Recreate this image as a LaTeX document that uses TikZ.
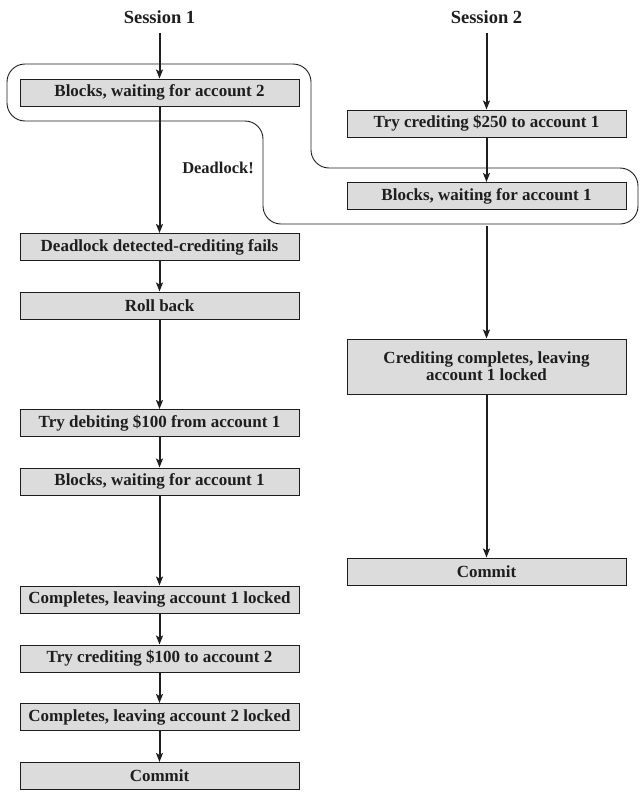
\documentclass[tikz,border=0pt]{standalone}
\usepackage{fontspec}
\setmainfont{Liberation Serif}
\usetikzlibrary{arrows.meta}
\definecolor{boxgray}{RGB}{220,220,220}
\definecolor{ink}{RGB}{30,30,30}
\begin{document}
\begin{tikzpicture}[x=1pt,y=-1pt,
  stepbox/.style={draw=ink, line width=1pt, fill=boxgray, minimum width=279pt, minimum height=27pt, inner sep=0pt, align=center, font=\fontsize{17}{17}\selectfont\bfseries, text=ink},
  head/.style={font=\fontsize{18.5}{18}\selectfont\bfseries, text=ink, inner sep=0pt},
  arr/.style={draw=ink, line width=2pt, -{Stealth[length=9pt,width=7pt,inset=2pt]}},
  outline/.style={draw=ink, line width=0.9pt, rounded corners=18pt}]
\useasboundingbox (0,0) rectangle (644,798);
% headers
\node[head] (s1) at (159.5,17) {Session 1};
\node[head] (s2) at (486.5,17) {Session 2};
% left column
\node[stepbox] (l1) at (159.5,92.5) {Blocks, waiting for account 2};
\node[stepbox] (l2) at (159.5,247) {Deadlock detected-crediting fails};
\node[stepbox] (l3) at (159.5,305.5) {Roll back};
\node[stepbox] (l4) at (159.5,423) {Try debiting \$100 from account 1};
\node[stepbox] (l5) at (159.5,481.5) {Blocks, waiting for account 1};
\node[stepbox] (l6) at (159.5,599.5) {Completes, leaving account 1 locked};
\node[stepbox] (l7) at (159.5,658.5) {Try crediting \$100 to account 2};
\node[stepbox] (l8) at (159.5,717) {Completes, leaving account 2 locked};
\node[stepbox] (l9) at (159.5,776) {Commit};
% right column
\node[stepbox] (r1) at (486.5,123.5) {Try crediting \$250 to account 1};
\node[stepbox] (r2) at (486.5,196) {Blocks, waiting for account 1};
\node[stepbox, minimum height=55pt] (r3) at (486.5,366.5) {Crediting completes, leaving\\account 1 locked};
\node[stepbox] (r4) at (486.5,571.5) {Commit};
% deadlock outline
\draw[outline] (7,64) -- (311,64) -- (311,168) -- (638,168) -- (638,224) -- (263,224) -- (263,121) -- (7,121) -- cycle;
\node[font=\fontsize{16.5}{17}\selectfont\bfseries, text=ink, inner sep=0pt] (dl) at (218,168) {Deadlock!};
% arrows left
\draw[arr] ([yshift=-9pt]s1.south) -- (l1.north);
\draw[arr] (l1) -- (l2);
\draw[arr] (l2) -- (l3);
\draw[arr] (l3) -- (l4);
\draw[arr] (l4) -- (l5);
\draw[arr] (l5) -- (l6);
\draw[arr] (l6) -- (l7);
\draw[arr] (l7) -- (l8);
\draw[arr] (l8) -- (l9);
% arrows right
\draw[arr] ([yshift=-9pt]s2.south) -- (r1.north);
\draw[arr] (r1) -- (r2);
\draw[arr, shorten <=16pt] (r2) -- (r3);
\draw[arr] (r3) -- (r4);
\end{tikzpicture}
\end{document}
